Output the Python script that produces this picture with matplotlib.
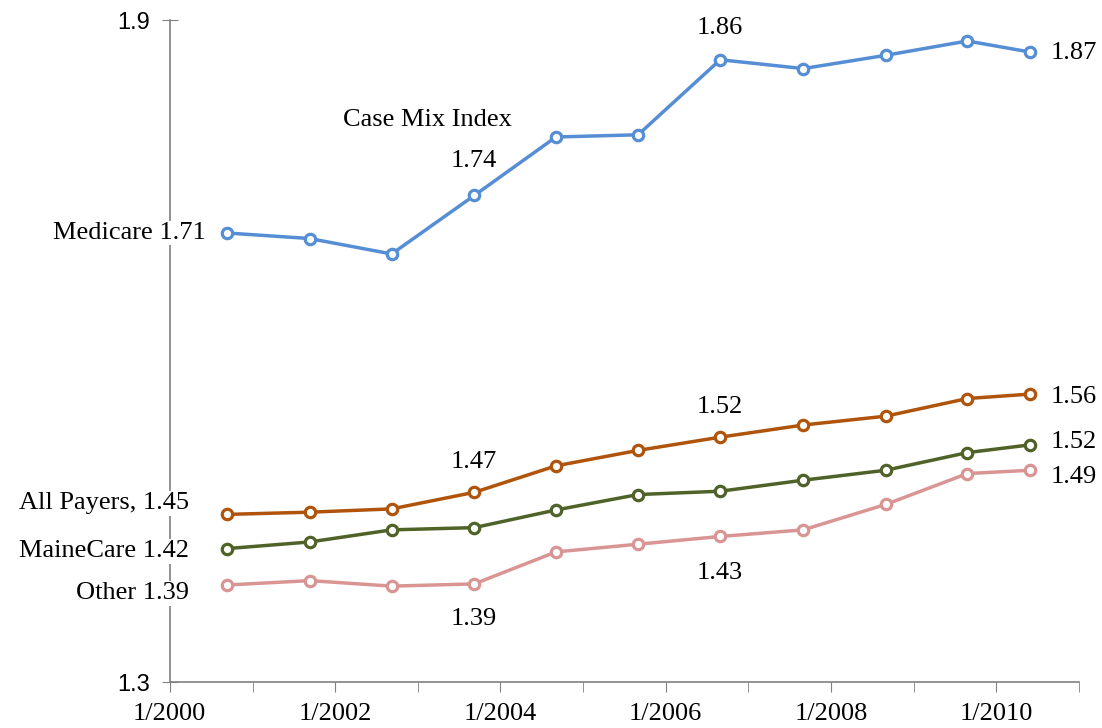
import pandas as pd
import matplotlib.pyplot as plt
import matplotlib.dates as mdates

# period dates (fiscal years) and case mix index values
dates = pd.to_datetime(["2000-09-10", "2001-09-10", "2002-09-08", "2003-09-08", "2004-09-03",
                        "2005-09-01", "2006-08-30", "2007-09-01", "2008-08-30", "2009-08-26",
                        "2010-05-30"])
medicare = [1.707, 1.702, 1.688, 1.741, 1.794, 1.796, 1.864, 1.856, 1.868, 1.881, 1.871]
all_payers = [1.452, 1.454, 1.457, 1.472, 1.496, 1.510, 1.522, 1.533, 1.541, 1.557, 1.561]
mainecare = [1.421, 1.427, 1.438, 1.440, 1.456, 1.470, 1.473, 1.483, 1.492, 1.508, 1.515]
other = [1.388, 1.392, 1.387, 1.389, 1.418, 1.425, 1.432, 1.438, 1.461, 1.489, 1.492]

series = [("Medicare", medicare, "#558ED5"),
          ("All Payers", all_payers, "#B0540C"),
          ("MaineCare", mainecare, "#4F6228"),
          ("Other", other, "#D99594")]

serif = "Liberation Serif"
fs = 19

fig = plt.figure(figsize=(11.02, 7.28), dpi=100)
ax = fig.add_axes([0.154, 0.063, 0.825, 0.9095])

for name, vals, col in series:
    ax.plot(dates, vals, color=col, lw=2.5, marker="o", ms=7.5, mfc="white",
            mec=col, mew=2.3, zorder=3)

ax.set_ylim(1.3, 1.9)
ax.set_yticks([1.3, 1.9])
ax.set_yticklabels(["1.3", "1.9"], fontfamily="Liberation Sans", fontsize=17)
ax.set_xlim(pd.Timestamp("2000-01-01"), pd.Timestamp("2011-01-01"))
ax.xaxis.set_major_locator(mdates.YearLocator(2))
ax.xaxis.set_minor_locator(mdates.YearLocator(1))
ax.xaxis.set_major_formatter(mdates.DateFormatter("1/%Y"))
for lab in ax.get_xticklabels():
    lab.set_fontfamily(serif)
    lab.set_fontsize(fs)
ax.tick_params(axis="x", which="both", direction="out", length=7, color="#808080", pad=8)
ax.tick_params(axis="y", direction="inout", length=12, color="#808080", pad=8)
for s in ["top", "right"]:
    ax.spines[s].set_visible(False)
for s in ["left", "bottom"]:
    ax.spines[s].set_color("#808080")
    ax.spines[s].set_linewidth(1.2)

def txt(i, v, s, dx=0, dy=0, ha="center", va="center", bg=False):
    kw = {}
    if bg:
        kw["bbox"] = dict(facecolor="white", edgecolor="none", pad=1)
    ax.annotate(s, (dates[i], v), xytext=(dx, dy), textcoords="offset points",
                ha=ha, va=va, fontfamily=serif, fontsize=fs, zorder=5, **kw)

# left labels
txt(0, medicare[0], "Medicare 1.71", dx=-15, ha="right", bg=True)
txt(0, all_payers[0], "All Payers, 1.45", dx=-27, dy=8, ha="right", bg=True)
txt(0, mainecare[0], "MaineCare 1.42", dx=-27, dy=-2, ha="right", bg=True)
txt(0, other[0], "Other 1.39", dx=-27, dy=-6, ha="right", bg=True)

# right labels
txt(10, medicare[10], "1.87", dx=15, dy=-1, ha="left")
txt(10, all_payers[10], "1.56", dx=15, dy=-2, ha="left")
txt(10, mainecare[10], "1.52", dx=15, dy=2, ha="left")
txt(10, other[10], "1.49", dx=15, dy=-5, ha="left")

# inline labels
txt(3, medicare[3], "1.74", dy=25)
txt(6, medicare[6], "1.86", dy=23)
txt(3, all_payers[3], "1.47", dy=22)
txt(6, all_payers[6], "1.52", dy=22)
txt(6, other[6], "1.43", dy=-26)
txt(3, other[3], "1.39", dy=-25)

ax.text(pd.Timestamp("2003-02-15"), 1.809, "Case Mix Index", ha="center", va="center",
        fontfamily=serif, fontsize=fs)

fig.savefig("out.png", dpi=100)
